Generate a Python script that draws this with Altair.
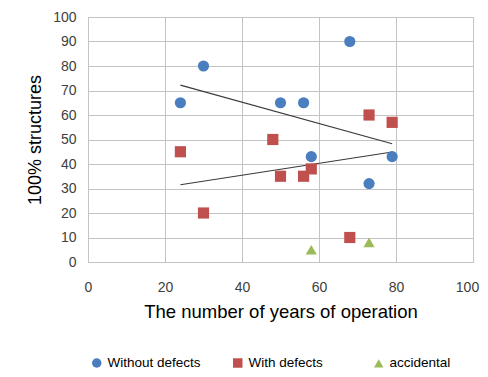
import altair as alt
import pandas as pd

# Data
without_x = [24, 30, 50, 56, 58, 68, 73, 79]
without_y = [65, 80, 65, 65, 43, 90, 32, 43]
with_x = [24, 30, 48, 50, 56, 58, 68, 73, 79]
with_y = [45, 20, 50, 35, 35, 38, 10, 60, 57]
acc_x = [58, 73]
acc_y = [5, 8]

trend_x = [24, 79]
trend_without = [72.2, 48.3]
trend_with = [31.5, 44.9]

x_ticks = [0, 20, 40, 60, 80, 100]
y_ticks = [0, 10, 20, 30, 40, 50, 60, 70, 80, 90, 100]

series_names = ["Without defects", "With defects", "accidental"]
series_colors = ["#4A7EBF", "#C0504D", "#9BBB59"]
series_shapes = ["circle", "square", "triangle-up"]

rows = []
for x, y in zip(without_x, without_y):
    rows.append({"x": x, "y": y, "s": series_names[0]})
for x, y in zip(with_x, with_y):
    rows.append({"x": x, "y": y, "s": series_names[1]})
for x, y in zip(acc_x, acc_y):
    rows.append({"x": x, "y": y, "s": series_names[2]})
pts = pd.DataFrame(rows)

trows = []
for i, x in enumerate(trend_x):
    trows.append({"x": x, "y": trend_without[i], "t": "a"})
    trows.append({"x": x, "y": trend_with[i], "t": "b"})
trend = pd.DataFrame(trows)

FONT = "Liberation Sans"

xscale = alt.Scale(domain=[0, 100], nice=False)
yscale = alt.Scale(domain=[0, 100], nice=False)


def xaxis():
    return alt.Axis(values=x_ticks, title="The number of years of operation",
                    grid=True, gridColor="#C4C4C4", domain=False, ticks=False, labelOverlap=False,
                    labelFlush=False,
                    labelOffset={"condition": {"test": "datum.value == 100", "value": -6}, "value": 0},
                    labelFont=FONT, labelFontSize=14, labelColor="#404040", labelPadding=18,
                    titleFont=FONT, titleFontSize=18.5, titleFontWeight="normal", titleColor="#000000",
                    titlePadding=8)


def yaxis():
    return alt.Axis(values=y_ticks, title="100% structures",
                    grid=True, gridColor="#C4C4C4", domain=False, ticks=False, labelOverlap=False,
                    labelFlush=False,
                    labelFont=FONT, labelFontSize=14, labelColor="#404040", labelPadding=12,
                    titleFont=FONT, titleFontSize=18, titleFontWeight="normal", titleColor="#000000",
                    titlePadding=8)


points = alt.Chart(pts).mark_point(filled=True, opacity=1, size=125).encode(
    x=alt.X("x:Q", scale=xscale, axis=xaxis()),
    y=alt.Y("y:Q", scale=yscale, axis=yaxis()),
    color=alt.Color("s:N", scale=alt.Scale(domain=series_names, range=series_colors),
                    legend=alt.Legend(title=None, orient="none", direction="horizontal",
                                      legendX=2, legendY=339, labelFont=FONT, labelFontSize=13.5,
                                      labelColor="#000000", symbolSize=90, columnPadding=29,
                                      gridAlign="all", symbolOpacity=1)),
    shape=alt.Shape("s:N", scale=alt.Scale(domain=series_names, range=series_shapes)),
)

lines = alt.Chart(trend).mark_line(color="#3A3A3A", strokeWidth=1.1).encode(
    x=alt.X("x:Q", scale=xscale, axis=xaxis()),
    y=alt.Y("y:Q", scale=yscale, axis=yaxis()),
    detail="t:N",
)

chart = alt.layer(lines, points).properties(
    width=385, height=245,
    autosize=alt.AutoSizeParams(type="none"),
    padding={"left": 80, "top": 9, "right": 7, "bottom": 107},
    background="#FFFFFF",
).configure_view(stroke="#BFBFBF", strokeWidth=1)

chart.save("out.html", embed_options={"renderer": "svg", "actions": False})
